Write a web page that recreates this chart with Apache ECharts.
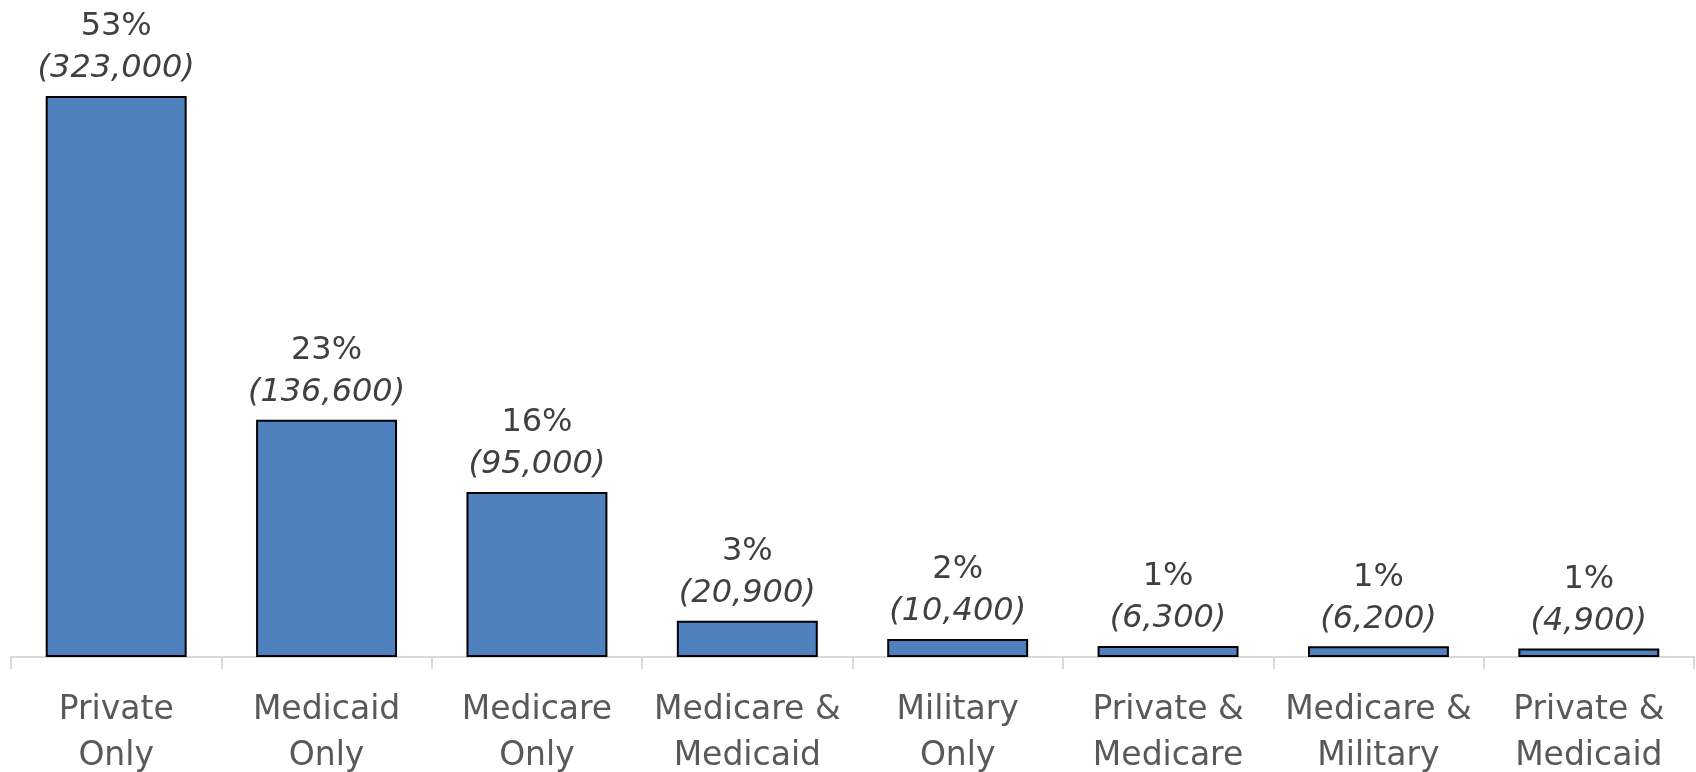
<!DOCTYPE html>
<html><head><meta charset="utf-8">
<script src="https://cdn.jsdelivr.net/npm/echarts@6/dist/echarts.min.js"></script>
<style>html,body{margin:0;padding:0;background:#fff}#c{width:1696px;height:772px}</style>
</head><body><div id="c"></div>
<script>
const categories = ["Private\nOnly","Medicaid\nOnly","Medicare\nOnly","Medicare &\nMedicaid","Military\nOnly","Private &\nMedicare","Medicare &\nMilitary","Private &\nMedicaid"];
const counts = [323000,136600,95000,20900,10400,6300,6200,4900];
const percents = ["53%","23%","16%","3%","2%","1%","1%","1%"];

const chart = echarts.init(document.getElementById('c'));
chart.setOption({
  animation:false,
  grid:{left:11,right:2,top:96,bottom:115,outerBoundsMode:'none',containLabel:false},
  xAxis:{type:'category',data:categories,
    axisLine:{lineStyle:{color:'#d9d9d9',width:2}},
    axisTick:{show:true,length:12,lineStyle:{color:'#d9d9d9',width:2}},
    axisLabel:{color:'#595959',fontFamily:'DejaVu Sans',fontSize:33,lineHeight:46,margin:30,interval:0}
  },
  yAxis:{type:'value',min:0,max:323000,show:false,splitLine:{show:false}},
  series:[{type:'bar',data:counts,barCategoryGap:'33%',
    itemStyle:{color:'#4f81bf',borderColor:'#000',borderWidth:2},
    label:{show:true,position:'top',distance:6,
      formatter:p=>'{a|'+percents[p.dataIndex]+'}\n{b|('+p.value.toLocaleString('en-US')+')}',
      rich:{a:{fontFamily:'DejaVu Sans',fontSize:32,color:'#404040',lineHeight:42},
            b:{fontFamily:'DejaVu Sans',fontStyle:'italic',fontSize:32,color:'#404040',lineHeight:42}}}
  }]
});
</script></body></html>
